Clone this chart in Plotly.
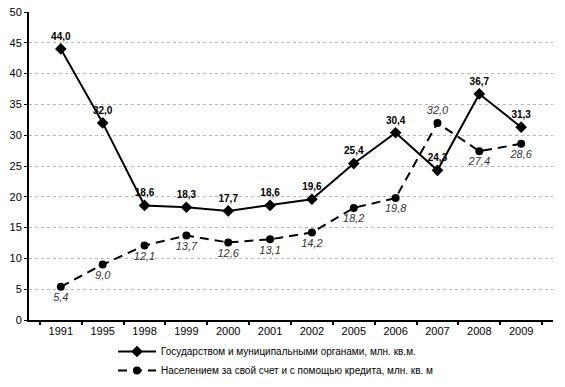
import plotly.graph_objects as go

years = ["1991", "1995", "1998", "1999", "2000", "2001", "2002", "2005", "2006", "2007", "2008", "2009"]
state = [44.0, 32.0, 18.6, 18.3, 17.7, 18.6, 19.6, 25.4, 30.4, 24.3, 36.7, 31.3]
people = [5.4, 9.0, 12.1, 13.7, 12.6, 13.1, 14.2, 18.2, 19.8, 32.0, 27.4, 28.6]
state_name = "Государством и муниципальными органами, млн. кв.м."
people_name = "Населением за свой счет и с помощью кредита, млн. кв. м"

def fmt(v):
    return f"{v:.1f}".replace(".", ",")

people_pos = ["bottom center"] * len(people)
people_pos[9] = "top center"

fig = go.Figure()
fig.add_trace(go.Scatter(
    x=years, y=state, name=state_name, mode="lines+markers+text",
    line=dict(color="black", width=2),
    marker=dict(symbol="diamond", size=9, color="black"),
    text=[fmt(v) for v in state], textposition="top center",
    textfont=dict(family="Liberation Sans, Arial", size=10, color="black", weight="bold"),
    cliponaxis=False,
))
fig.add_trace(go.Scatter(
    x=years, y=people, name=people_name, mode="lines+markers+text",
    line=dict(color="black", width=2, dash="9px,6px"),
    marker=dict(symbol="circle", size=8, color="black"),
    text=[fmt(v) for v in people], textposition=people_pos,
    textfont=dict(family="Liberation Sans, Arial", size=11, color="#333333", style="italic"),
    cliponaxis=False,
))

fig.update_layout(
    width=565, height=387,
    margin=dict(l=29, r=12, t=12, b=67, autoexpand=False),
    paper_bgcolor="white", plot_bgcolor="white",
    font=dict(family="Liberation Sans, Arial", size=11, color="black"),
    showlegend=True,
    legend=dict(
        xref="container", yref="container", x=113/565, y=1 - 337/387,
        xanchor="left", yanchor="top", orientation="v",
        font=dict(size=10, color="black"), tracegroupgap=0,
        bgcolor="rgba(0,0,0,0)", itemwidth=38,
    ),
)
fig.update_xaxes(
    type="category", showline=True, linecolor="black", linewidth=2,
    ticks="outside", tickson="boundaries", ticklen=3, tickcolor="black", tickwidth=1.5,
    showgrid=False, tickfont=dict(size=11, color="black"), tickangle=0,
)
fig.update_yaxes(
    range=[0, 50], dtick=5, showline=True, linecolor="black", linewidth=2,
    ticks="outside", ticklen=3, tickcolor="black",
    showgrid=True, gridcolor="#b8b8b8", griddash="dot", gridwidth=1,
    zeroline=False, tickfont=dict(size=11, color="black"),
)

fig.write_html("out.html", config={"displayModeBar": False},
               post_script="document.body.style.margin='0';document.body.style.overflow='hidden';")
